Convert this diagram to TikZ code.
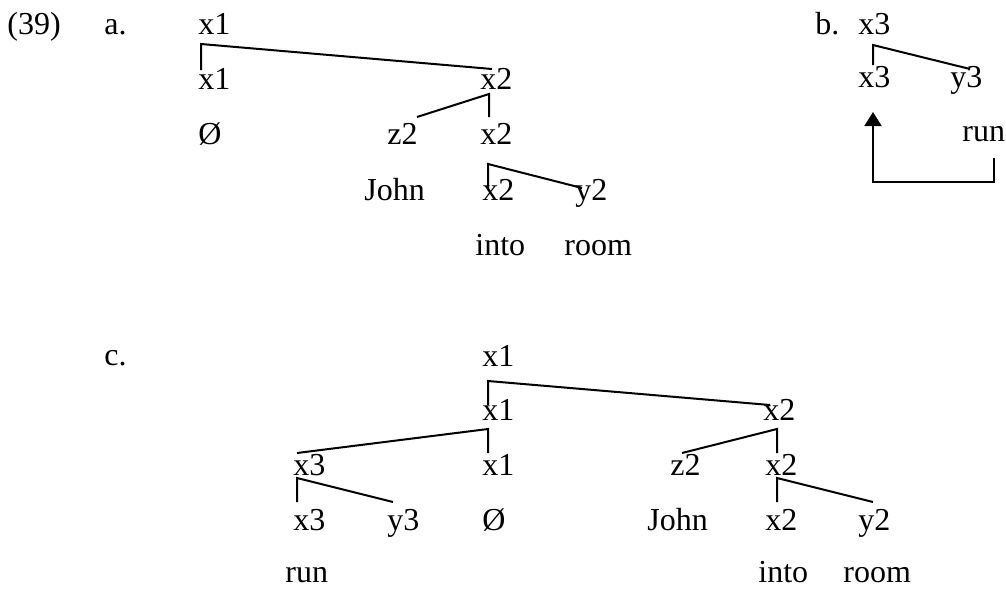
\documentclass[tikz,border=0pt]{standalone}
\usepackage{fontspec}
\setmainfont{Liberation Serif}
\usetikzlibrary{arrows.meta, calc}
\tikzset{
  lbl/.style={inner sep=0pt, anchor=base west, font=\fontsize{16}{19}\selectfont},
  branch/.style={line width=1pt},
}
\begin{document}
\begin{tikzpicture}[x=0.5pt, y=-0.5pt]
\useasboundingbox (0,0) rectangle (1006,590);

% --- Example labels ---
\node[lbl] (num) at (7,34) {(39)};
\node[lbl] (lbla) at (104,34) {a.};
\node[lbl] (lblb) at (815,34) {b.};
\node[lbl] (lblc) at (104,365) {c.};

% --- Tree a ---
\node[lbl] (ax1) at (198,34) {x1};
\node[lbl] (ax1b) at (198,89) {x1};
\node[lbl] (ax2) at (480,89) {x2};
\node[lbl] (aempty) at (198,144) {Ø};
\node[lbl] (az2) at (387,144) {z2};
\node[lbl] (ax2b) at (480,144) {x2};
\node[lbl] (ajohn) at (364,200) {John};
\node[lbl] (ax2c) at (482,200) {x2};
\node[lbl] (ay2) at (575,200) {y2};
\node[lbl] (ainto) at (475,255) {into};
\node[lbl] (aroom) at (564,255) {room};

\draw[branch] ($(ax1b.base west)+(3,-19)$) -- ($(ax1.base west)+(3,10)$) -- ($(ax2.base west)+(12,-20)$);
\draw[branch] ($(az2.base west)+(30,-27)$) -- ($(ax2.base west)+(9,5)$) -- ($(ax2b.base west)+(9,-27)$);
\draw[branch] ($(ax2c.base west)+(6,-10)$) -- ($(ax2b.base west)+(8,20)$) -- ($(ay2.base west)+(7,-12)$);

% --- Tree b ---
\node[lbl] (bx3) at (858,34) {x3};
\node[lbl] (bx3b) at (858,87) {x3};
\node[lbl] (by3) at (950,87) {y3};
\node[lbl] (brun) at (962,141) {run};

\draw[branch] ($(bx3b.base west)+(15,-22)$) -- ($(bx3.base west)+(15,11)$) -- ($(by3.base west)+(20,-18)$);
% movement arrow
\draw[branch, -{Triangle[width=8.5pt, length=7pt]}] ($(brun.base west)+(32,17)$) -- ($(brun.base west)+(32,41)$) -| ($(bx3b.base west)+(15,25)$);

% --- Tree c ---
\node[lbl] (cx1) at (482,366) {x1};
\node[lbl] (cx1b) at (482,420) {x1};
\node[lbl] (cx2) at (763,420) {x2};
\node[lbl] (cx3) at (293,475) {x3};
\node[lbl] (cx1c) at (482,475) {x1};
\node[lbl] (cz2) at (670,475) {z2};
\node[lbl] (cx2b) at (765,475) {x2};
\node[lbl] (cx3b) at (293,530) {x3};
\node[lbl] (cy3) at (387,530) {y3};
\node[lbl] (cempty) at (482,530) {Ø};
\node[lbl] (cjohn) at (647,530) {John};
\node[lbl] (cx2c) at (765,530) {x2};
\node[lbl] (cy2) at (858,530) {y2};
\node[lbl] (crun) at (285,582) {run};
\node[lbl] (cinto) at (758,582) {into};
\node[lbl] (croom) at (843,582) {room};

\draw[branch] ($(cx1b.base west)+(6,-15)$) -- ($(cx1.base west)+(6,15)$) -- ($(cx2.base west)+(7,-15)$);
\draw[branch] ($(cx3.base west)+(4,-22)$) -- ($(cx1b.base west)+(6,9)$) -- ($(cx1c.base west)+(6,-22)$);
\draw[branch] ($(cz2.base west)+(12,-22)$) -- ($(cx2.base west)+(14,9)$) -- ($(cx2b.base west)+(12,-22)$);
\draw[branch] ($(cx3b.base west)+(4,-28)$) -- ($(cx3.base west)+(4,3)$) -- ($(cy3.base west)+(6,-28)$);
\draw[branch] ($(cx2c.base west)+(12,-28)$) -- ($(cx2b.base west)+(12,3)$) -- ($(cy2.base west)+(15,-28)$);
\end{tikzpicture}
\end{document}
